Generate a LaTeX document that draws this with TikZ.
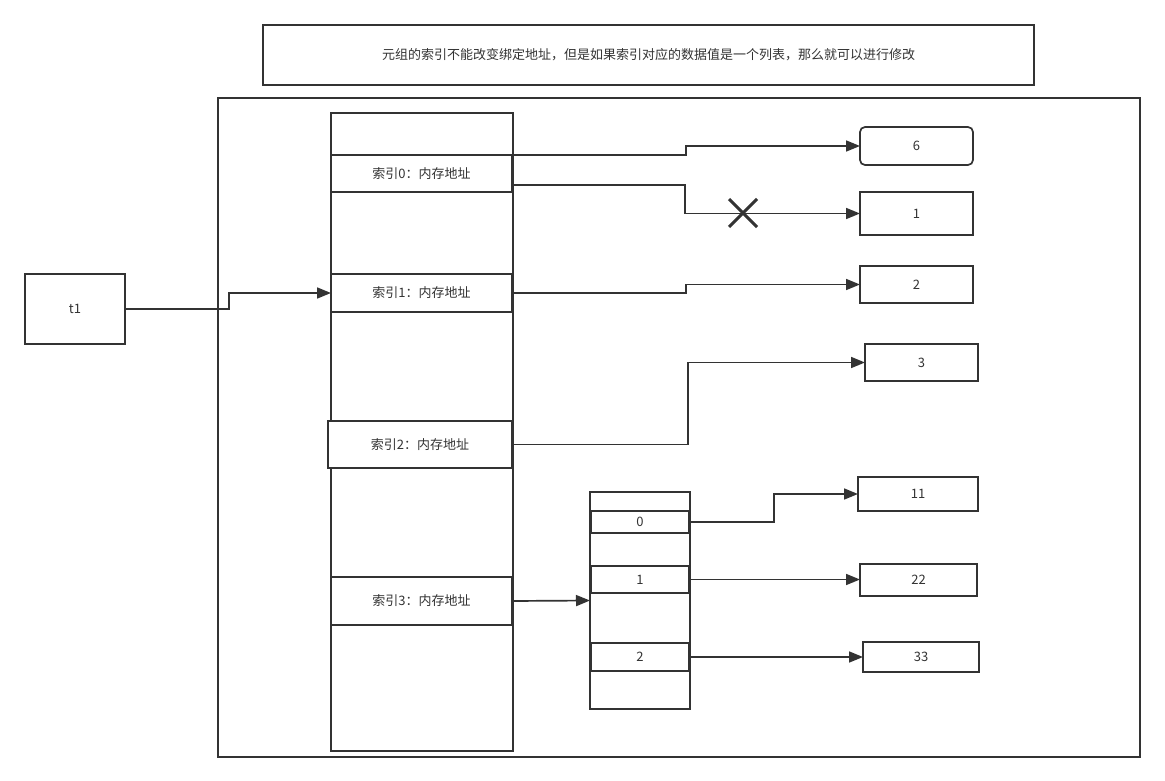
\documentclass[tikz,border=0pt]{standalone}
\usepackage{fontspec}
\newfontfamily\cjk{Noto Sans CJK SC}
\usetikzlibrary{arrows.meta}
\definecolor{ln}{HTML}{333333}
\definecolor{tx}{HTML}{333333}
\tikzset{
  box/.style={draw=ln, line width=1.7pt, fill=white, inner sep=0pt, outer sep=0pt,
    font=\cjk\fontsize{13}{15}\selectfont, text=tx},
  rbox/.style={box, rounded corners=5pt},
  arr/.style={draw=ln, line width=1.7pt, -{Triangle[length=14pt,width=11pt]}},
  xmark/.style={draw=ln, line width=3pt},
}
\begin{document}
\begin{tikzpicture}[x=1pt,y=-1pt]
\useasboundingbox (0,0) rectangle (1165,781);
\node[box, minimum width=771, minimum height=60] (note) at (648.5,55) {元组的索引不能改变绑定地址，但是如果索引对应的数据值是一个列表，那么就可以进行修改};
\node[box, minimum width=922, minimum height=659] (frame) at (679,427.5) {};
\node[box, minimum width=182, minimum height=638] (col) at (422,432) {};
\node[box, minimum width=181, minimum height=37] (c0) at (421.5,173.5) {索引0：内存地址};
\node[box, minimum width=181, minimum height=38] (c1) at (421.5,293) {索引1：内存地址};
\node[box, minimum width=184, minimum height=47] (c2) at (420,444.5) {索引2：内存地址};
\node[box, minimum width=181, minimum height=48] (c3) at (421.5,601) {索引3：内存地址};
\node[box, minimum width=100, minimum height=70] (t1) at (75,309) {t1};
\node[rbox, minimum width=113, minimum height=38] (b6) at (916.5,146) {6};
\node[box, minimum width=113, minimum height=43] (b1) at (916.5,213.5) {1};
\node[box, minimum width=113, minimum height=37] (b2) at (916.5,284.5) {2};
\node[box, minimum width=113, minimum height=37] (b3) at (921.5,362.5) {3};
\node[box, minimum width=100, minimum height=217] (lst) at (640,600.5) {};
\node[box, minimum width=98, minimum height=22] (i0) at (640,522) {0};
\node[box, minimum width=98, minimum height=27] (i1) at (640,579.5) {1};
\node[box, minimum width=98, minimum height=28] (i2) at (640,657) {2};
\node[box, minimum width=120, minimum height=34] (b11) at (918,494) {11};
\node[box, minimum width=117, minimum height=32] (b22) at (918.5,580) {22};
\node[box, minimum width=116, minimum height=30] (b33) at (921,657) {33};
\draw[arr] (t1.east) -- ++(104,0) |- (c1.west);
\draw[arr] (c0.north east) -- ++(174,0) |- (b6.west);
\draw[arr] ([yshift=-11.5pt]c0.east) -- ++(173,0) |- (b1.west);
\draw[arr] (c1.east) -- ++(174,0) |- (b2.west);
\draw[arr] (c2.east) -- ++(176,0) |- (b3.west);
\draw[arr] (c3.east) -- (lst.west);
\draw[arr] (i0.east) -- ++(85,0) |- (b11.west);
\draw[arr] (i1.east) -- (i1.east -| b22.west);
\draw[arr] (i2.east) -- (i2.east -| b33.west);
\coordinate (xm) at (743,213);
\draw[xmark] ([shift={(-14,-14)}]xm) -- ([shift={(14,14)}]xm);
\draw[xmark] ([shift={(-14,14)}]xm) -- ([shift={(14,-14)}]xm);
\end{tikzpicture}
\end{document}
